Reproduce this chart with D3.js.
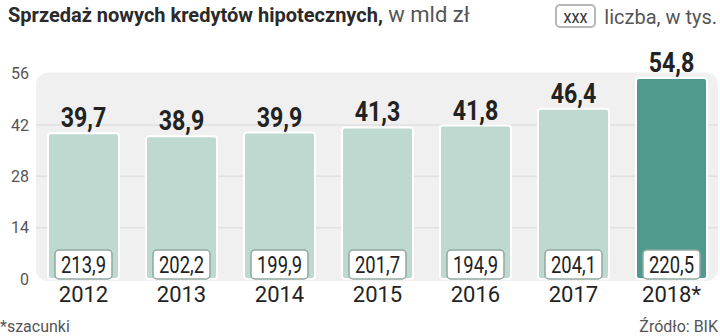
<!DOCTYPE html>
<html>
<head>
<meta charset="utf-8">
<script src="https://cdn.jsdelivr.net/npm/d3@7"></script>
<style>
  body { margin: 0; background: #fff; }
  svg { display: block; font-family: Roboto, "DejaVu Sans", sans-serif; }
</style>
</head>
<body>
<svg id="chart" width="720" height="336"></svg>
<script>
// dane
var lata = ["2012", "2013", "2014", "2015", "2016", "2017", "2018*"];
var wartosci = [39.7, 38.9, 39.9, 41.3, 41.8, 46.4, 54.8];   // mld zł
var liczba = [213.9, 202.2, 199.9, 201.7, 194.9, 204.1, 220.5]; // tys.
var ticks = [0, 14, 28, 42, 56];

var fmt = function(v){ return d3.format(".1f")(v).replace(".", ","); };

var svg = d3.select("#chart");

// skale
var x = d3.scaleBand()
    .domain(lata)
    .range([38.2, 716.8])
    .paddingInner(0.2755)
    .paddingOuter(0.1);

var y = d3.scaleLinear()
    .domain([0, 56])
    .range([279, 73.5]);

// tytul
var tytul = svg.append("text")
    .attr("x", 8).attr("y", 22)
    .attr("font-size", 20)
    .attr("fill", "#2a2a2a");
tytul.append("tspan").attr("font-weight", "bold")
    .text("Sprzedaż nowych kredytów hipotecznych,");
tytul.append("tspan").attr("fill", "#555").attr("font-size", 22).text(" w mld zł");

// legenda
svg.append("rect")
    .attr("x", 556).attr("y", 5).attr("width", 39).attr("height", 22)
    .attr("rx", 4)
    .attr("fill", "#fff").attr("stroke", "#b8b8b8").attr("stroke-width", 2);
svg.append("text")
    .attr("transform", "translate(575.5,22.5) scale(0.85,1)")
    .attr("text-anchor", "middle")
    .attr("font-size", 19).attr("fill", "#333")
    .text("xxx");
svg.append("text")
    .attr("x", 717).attr("y", 24)
    .attr("text-anchor", "end")
    .attr("font-size", 20).attr("fill", "#555")
    .text("liczba, w tys.");

// tlo wykresu
svg.append("rect")
    .attr("x", 36).attr("y", y(56) - 1)
    .attr("width", 682).attr("height", y(0) - y(56) + 3)
    .attr("rx", 12)
    .attr("fill", "#f0f0f0");

// siatka
svg.append("g")
    .selectAll("line")
    .data(ticks.filter(function(t){ return t > 0 && t < 56; }))
    .enter().append("line")
    .attr("x1", 36).attr("x2", 718)
    .attr("y1", function(d){ return y(d); })
    .attr("y2", function(d){ return y(d); })
    .attr("stroke", "#e0e0e0").attr("stroke-width", 1.5);

// os Y
var osY = svg.append("g")
    .attr("transform", "translate(29,0)")
    .call(d3.axisLeft(y).tickValues(ticks).tickSize(0).tickPadding(0));
osY.select(".domain").remove();
osY.selectAll("text")
    .attr("font-family", "Roboto, sans-serif")
    .attr("font-size", 16).attr("fill", "#555");

// slupki
var g = svg.append("g").selectAll("g")
    .data(lata)
    .enter().append("g");

g.append("rect")
    .attr("x", function(d){ return x(d); })
    .attr("y", function(d, i){ return y(wartosci[i]); })
    .attr("width", x.bandwidth())
    .attr("height", function(d, i){ return y(0) - y(wartosci[i]); })
    .attr("rx", 3)
    .attr("fill", function(d, i){ return i == lata.length - 1 ? "#4f9a8d" : "#bdd9d0"; })
    .attr("stroke", "#fff").attr("stroke-width", 2);

// wartosci nad slupkami
g.append("text")
    .attr("transform", function(d, i){
      return "translate(" + (x(d) + x.bandwidth() / 2) + "," + (y(wartosci[i]) - 6) + ") scale(0.86,1)";
    })
    .attr("text-anchor", "middle")
    .attr("font-size", 27).attr("font-weight", "bold").attr("fill", "#222")
    .text(function(d, i){ return fmt(wartosci[i]); });

// ramki z liczba
g.append("rect")
    .attr("x", function(d){ return x(d) + 7; })
    .attr("y", y(0) - 29)
    .attr("width", x.bandwidth() - 14)
    .attr("height", 29)
    .attr("rx", 4)
    .attr("fill", "#fff").attr("stroke", "#8fa8a0").attr("stroke-width", 1.5);

g.append("text")
    .attr("transform", function(d){
      return "translate(" + (x(d) + x.bandwidth() / 2) + "," + (y(0) - 6) + ") scale(0.8,1)";
    })
    .attr("text-anchor", "middle")
    .attr("font-size", 23).attr("fill", "#222")
    .text(function(d, i){ return fmt(liczba[i]); });

// os X
g.append("text")
    .attr("x", function(d){ return x(d) + x.bandwidth() / 2; })
    .attr("y", 302)
    .attr("text-anchor", "middle")
    .attr("font-size", 22).attr("fill", "#222")
    .text(function(d){ return d; });

// stopka
svg.append("text")
    .attr("x", 0).attr("y", 332)
    .attr("font-size", 16).attr("fill", "#555")
    .text("*szacunki");
svg.append("text")
    .attr("x", 718).attr("y", 332)
    .attr("text-anchor", "end")
    .attr("font-size", 16).attr("fill", "#555")
    .text("Źródło: BIK");
</script>
</body>
</html>
